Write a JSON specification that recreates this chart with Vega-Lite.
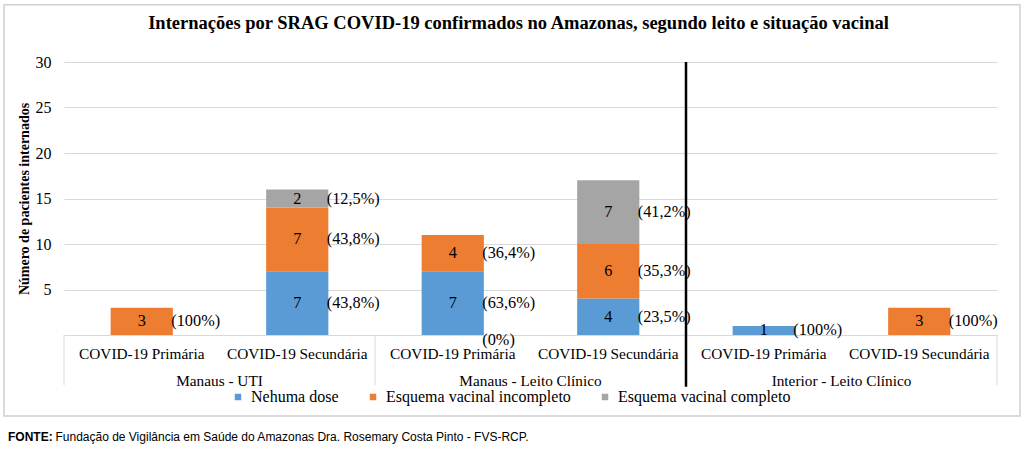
{
  "$schema": "https://vega.github.io/schema/vega-lite/v6.json",
  "width": 933,
  "height": 273,
  "autosize": "none",
  "padding": {"left": 64, "top": 62, "right": 27, "bottom": 115},
  "background": "white",
  "title": {
    "text": "Internações por SRAG COVID-19 confirmados no Amazonas, segundo leito e situação vacinal",
    "font": "Liberation Serif", "fontSize": 18.5, "fontWeight": "bold", "color": "#000",
    "offset": -29, "anchor": "middle", "dx": -12
  },
  "config": {"view": {"stroke": null}, "font": "Liberation Serif"},
  "data": {"values": [
    {"grupo": "Manaus - UTI", "leito": "COVID-19 Primária", "cat": "Manaus - UTI|COVID-19 Primária", "dose": "Esquema vacinal incompleto", "n": 3, "pct": "(100%)"},
    {"grupo": "Manaus - UTI", "leito": "COVID-19 Secundária", "cat": "Manaus - UTI|COVID-19 Secundária", "dose": "Nehuma dose", "n": 7, "pct": "(43,8%)"},
    {"grupo": "Manaus - UTI", "leito": "COVID-19 Secundária", "cat": "Manaus - UTI|COVID-19 Secundária", "dose": "Esquema vacinal incompleto", "n": 7, "pct": "(43,8%)"},
    {"grupo": "Manaus - UTI", "leito": "COVID-19 Secundária", "cat": "Manaus - UTI|COVID-19 Secundária", "dose": "Esquema vacinal completo", "n": 2, "pct": "(12,5%)"},
    {"grupo": "Manaus - Leito Clínico", "leito": "COVID-19 Primária", "cat": "Manaus - Leito Clínico|COVID-19 Primária", "dose": "Nehuma dose", "n": 7, "pct": "(63,6%)"},
    {"grupo": "Manaus - Leito Clínico", "leito": "COVID-19 Primária", "cat": "Manaus - Leito Clínico|COVID-19 Primária", "dose": "Esquema vacinal incompleto", "n": 4, "pct": "(36,4%)"},
    {"grupo": "Manaus - Leito Clínico", "leito": "COVID-19 Primária", "cat": "Manaus - Leito Clínico|COVID-19 Primária", "dose": "Esquema vacinal completo", "n": 0, "pct": "(0%)"},
    {"grupo": "Manaus - Leito Clínico", "leito": "COVID-19 Secundária", "cat": "Manaus - Leito Clínico|COVID-19 Secundária", "dose": "Nehuma dose", "n": 4, "pct": "(23,5%)"},
    {"grupo": "Manaus - Leito Clínico", "leito": "COVID-19 Secundária", "cat": "Manaus - Leito Clínico|COVID-19 Secundária", "dose": "Esquema vacinal incompleto", "n": 6, "pct": "(35,3%)"},
    {"grupo": "Manaus - Leito Clínico", "leito": "COVID-19 Secundária", "cat": "Manaus - Leito Clínico|COVID-19 Secundária", "dose": "Esquema vacinal completo", "n": 7, "pct": "(41,2%)"},
    {"grupo": "Interior - Leito Clínico", "leito": "COVID-19 Primária", "cat": "Interior - Leito Clínico|COVID-19 Primária", "dose": "Nehuma dose", "n": 1, "pct": "(100%)"},
    {"grupo": "Interior - Leito Clínico", "leito": "COVID-19 Secundária", "cat": "Interior - Leito Clínico|COVID-19 Secundária", "dose": "Esquema vacinal incompleto", "n": 3, "pct": "(100%)"}
  ]},
  "transform": [
    {"stack": "n", "groupby": ["cat"], "sort": [{"field": "dose", "order": "descending"}], "as": ["y0", "y1"]}
  ],
  "layer": [
    {
      "mark": {"type": "bar", "width": {"band": 0.4}},
      "encoding": {
        "x": {
          "field": "cat", "type": "nominal",
          "scale": {
            "domain": ["Manaus - UTI|COVID-19 Primária", "Manaus - UTI|COVID-19 Secundária", "Manaus - Leito Clínico|COVID-19 Primária", "Manaus - Leito Clínico|COVID-19 Secundária", "Interior - Leito Clínico|COVID-19 Primária", "Interior - Leito Clínico|COVID-19 Secundária"],
            "paddingInner": 0, "paddingOuter": 0
          },
          "axis": {
            "title": null, "labelExpr": "split(datum.label, '|')[1]", "labelAngle": 0, "ticks": false,
            "bandPosition": 0.5, "labelAlign": "center",
            "domainColor": "#d9d9d9", "labelFont": "Liberation Serif", "labelFontSize": 15.3,
            "labelColor": "#000", "labelPadding": 11, "labelLimit": 0
          }
        },
        "y": {
          "field": "y0", "type": "quantitative",
          "scale": {"domain": [0, 30], "nice": false},
          "axis": {
            "title": "Número de pacientes internados", "values": [0, 5, 10, 15, 20, 25, 30],
            "labelExpr": "datum.value == 0 ? '' : datum.label", "grid": true, "gridColor": "#d9d9d9",
            "domain": false, "ticks": false, "labelPadding": 13, "labelFontSize": 16, "labelColor": "#000",
            "labelFont": "Liberation Serif", "titleFont": "Liberation Serif", "titleFontSize": 14,
            "titleFontWeight": "bold", "titleColor": "#000", "titlePadding": 4
          }
        },
        "y2": {"field": "y1"},
        "color": {
          "field": "dose", "type": "nominal",
          "scale": {"domain": ["Nehuma dose", "Esquema vacinal incompleto", "Esquema vacinal completo"], "range": ["#5B9BD5", "#ED7D31", "#A5A5A5"]},
          "legend": {
            "orient": "none", "direction": "horizontal", "legendX": 166, "legendY": 327, "title": null,
            "symbolType": "square", "symbolSize": 42, "symbolStrokeWidth": 0, "labelFont": "Liberation Serif",
            "labelFontSize": 16, "labelColor": "#000", "columnPadding": 26, "labelOffset": 5, "padding": 0,
            "labelLimit": 400
          }
        }
      }
    },
    {
      "transform": [{"aggregate": [{"op": "count", "as": "c"}]}],
      "mark": {"type": "rect", "fill": null, "stroke": "#d0d0d0", "strokeWidth": 1.5, "clip": false},
      "encoding": {
        "x": {"datum": "Manaus - UTI|COVID-19 Primária", "type": "nominal", "bandPosition": -0.386},
        "x2": {"datum": "Interior - Leito Clínico|COVID-19 Secundária", "bandPosition": 1.148},
        "y": {"datum": 36.3, "type": "quantitative"},
        "y2": {"datum": -8.9}
      }
    },
    {
      "transform": [
        {"filter": "datum.n > 0"},
        {"fold": ["y0", "y1"]},
        {"aggregate": [{"op": "mean", "field": "value", "as": "meio"}], "groupby": ["cat", "dose", "n", "pct"]}
      ],
      "mark": {"type": "text", "font": "Liberation Serif", "fontSize": 16.3, "color": "#000", "baseline": "middle"},
      "encoding": {
        "x": {"field": "cat", "type": "nominal"},
        "y": {"field": "meio", "type": "quantitative"},
        "text": {"field": "n"}
      }
    },
    {
      "transform": [
        {"filter": "datum.n > 0"},
        {"fold": ["y0", "y1"]},
        {"aggregate": [{"op": "mean", "field": "value", "as": "meio"}], "groupby": ["cat", "dose", "n", "pct"]}
      ],
      "mark": {"type": "text", "font": "Liberation Serif", "fontSize": 16.3, "color": "#000", "baseline": "middle", "align": "left"},
      "encoding": {
        "x": {"field": "cat", "type": "nominal", "bandPosition": 0.69},
        "y": {"field": "meio", "type": "quantitative"},
        "text": {"field": "pct"}
      }
    },
    {
      "transform": [{"filter": "datum.n == 0"}],
      "mark": {"type": "text", "font": "Liberation Serif", "fontSize": 16.3, "color": "#000", "baseline": "middle", "align": "left", "dy": 5},
      "encoding": {
        "x": {"field": "cat", "type": "nominal", "bandPosition": 0.69},
        "y": {"datum": 0, "type": "quantitative"},
        "text": {"field": "pct"}
      }
    },
    {
      "transform": [
        {"filter": "datum.leito == 'COVID-19 Primária'"},
        {"aggregate": [{"op": "count", "as": "c"}], "groupby": ["cat"]}
      ],
      "mark": {"type": "rule", "color": "#d9d9d9", "strokeWidth": 1},
      "encoding": {
        "x": {"field": "cat", "type": "nominal", "bandPosition": 0},
        "y": {"datum": 0, "type": "quantitative"},
        "y2": {"datum": -5.5}
      }
    },
    {
      "transform": [{"aggregate": [{"op": "count", "as": "c"}]}],
      "mark": {"type": "rule", "color": "#d9d9d9", "strokeWidth": 1},
      "encoding": {
        "x": {"datum": "Interior - Leito Clínico|COVID-19 Secundária", "type": "nominal", "bandPosition": 1},
        "y": {"datum": 0, "type": "quantitative"},
        "y2": {"datum": -5.5}
      }
    },
    {
      "transform": [{"aggregate": [{"op": "count", "as": "c"}]}],
      "mark": {"type": "rule", "color": "#000", "strokeWidth": 2.5},
      "encoding": {
        "x": {"datum": "Interior - Leito Clínico|COVID-19 Primária", "type": "nominal", "bandPosition": 0},
        "y": {"datum": 30, "type": "quantitative"},
        "y2": {"datum": -5.7}
      }
    },
    {
      "transform": [
        {"filter": "datum.leito == 'COVID-19 Secundária'"},
        {"aggregate": [{"op": "count", "as": "c"}], "groupby": ["grupo", "cat"]}
      ],
      "mark": {"type": "text", "font": "Liberation Serif", "fontSize": 15.3, "color": "#000", "baseline": "middle"},
      "encoding": {
        "x": {"field": "cat", "type": "nominal", "bandPosition": 0},
        "y": {"datum": -5.0, "type": "quantitative"},
        "text": {"field": "grupo"}
      }
    },
    {
      "data": {"values": [{"fonte": "FONTE:", "texto": "Fundação de Vigilância em Saúde do Amazonas Dra. Rosemary Costa Pinto - FVS-RCP."}]},
      "layer": [
        {
          "mark": {"type": "text", "font": "Liberation Sans", "fontSize": 12, "fontWeight": "bold", "color": "#000", "baseline": "middle", "align": "left"},
          "encoding": {
            "x": {"datum": "Manaus - UTI|COVID-19 Primária", "type": "nominal", "bandPosition": -0.36},
            "y": {"datum": -11.2, "type": "quantitative"},
            "text": {"field": "fonte"}
          }
        },
        {
          "mark": {"type": "text", "font": "Liberation Sans", "fontSize": 12, "color": "#000", "baseline": "middle", "align": "left"},
          "encoding": {
            "x": {"datum": "Manaus - UTI|COVID-19 Primária", "type": "nominal", "bandPosition": -0.055},
            "y": {"datum": -11.2, "type": "quantitative"},
            "text": {"field": "texto"}
          }
        }
      ]
    }
  ]
}
